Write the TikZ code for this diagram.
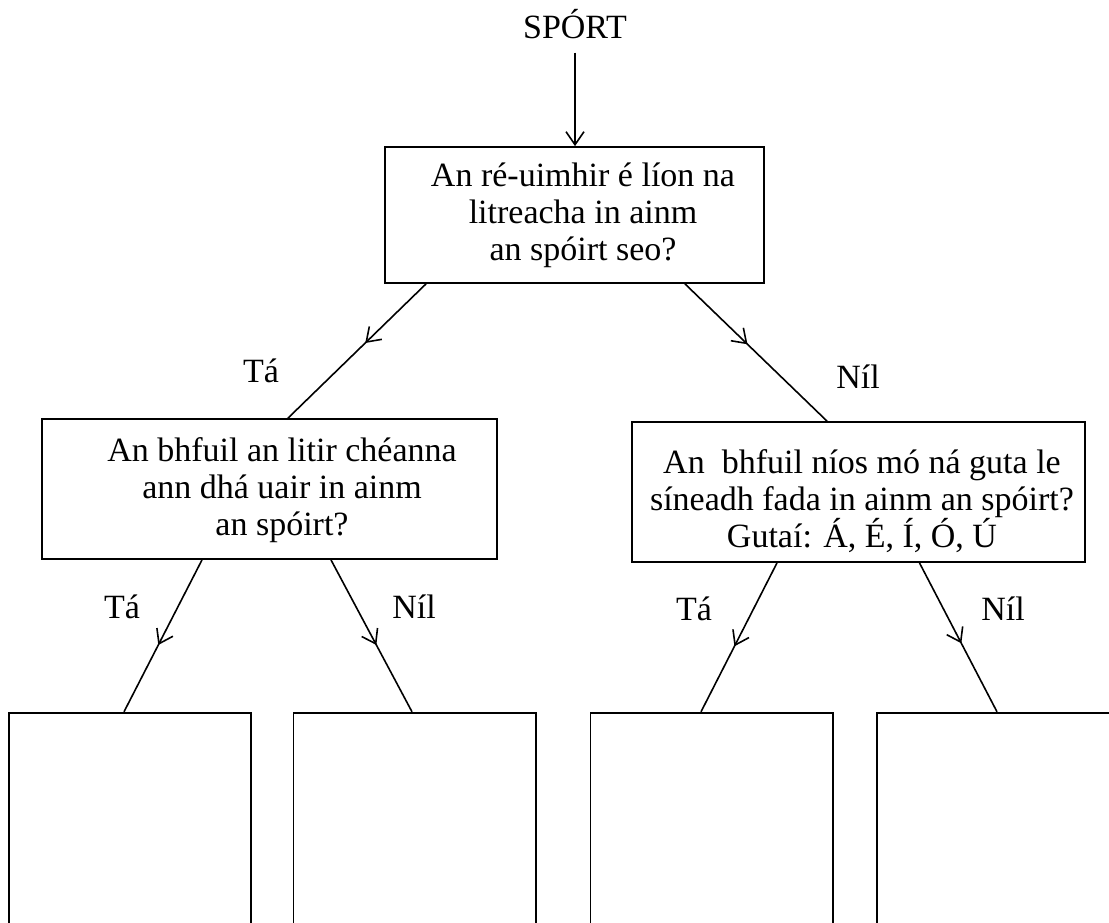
\documentclass[tikz,border=0pt]{standalone}
\usepackage{fontspec}
\setmainfont{Liberation Serif}
\usetikzlibrary{arrows.meta,decorations.markings}
\begin{document}
\begin{tikzpicture}[x=1pt,y=-1pt,
  >={Straight Barb[length=13pt,width=18pt]},
  every node/.style={font=\fontsize{34}{37}\selectfont},
  qbox/.style={draw,line width=1.8pt,inner sep=0pt},
  ebox/.style={draw,line width=1.8pt,inner sep=0pt,minimum height=247.3pt},
  qtext/.style={align=center,anchor=base,inner sep=0pt},
  lbl/.style={anchor=base,inner sep=0pt},
  conn/.style={line width=1.6pt,postaction={decorate},
    decoration={markings,mark=at position #1 with {\arrow{>}}}}]
\useasboundingbox (0,0) rectangle (1109,922);
\clip (0,0) rectangle (1109,922);
% title
\node[lbl,inner ysep=14pt] (sport) at (575,38) {SPÓRT};
% question boxes (text nodes anchored at the baseline of their last line)
\node[qbox,minimum width=379pt,minimum height=136pt] (q1) at (574.5,215) {};
\node[qtext] (t1) at (583,260) {An ré-uimhir é líon na\\litreacha in ainm\\an spóirt seo?};
\node[qbox,minimum width=455pt,minimum height=140pt] (q2) at (269.5,489) {};
\node[qtext] (t2) at (282,535) {An bhfuil an litir chéanna\\ann dhá uair in ainm\\an spóirt?};
\node[qbox,minimum width=453pt,minimum height=140pt] (q3) at (858.5,492) {};
\node[qtext] (t3) at (862,547) {An\ \ bhfuil níos mó ná guta le\\síneadh fada in ainm an spóirt?\\Gutaí: Á, É, Í, Ó, Ú};
% empty answer boxes
\node[ebox,minimum width=242pt] (e1) at (130,836.35) {};
\node[ebox,minimum width=242.5pt] (e2) at (414.75,836.35) {};
\node[ebox,minimum width=242.5pt] (e3) at (711.75,836.35) {};
\node[ebox,minimum width=253pt] (e4) at (1003.5,836.35) {};
% connectors
\draw[->,line width=1.6pt] (sport.south) -- (sport.south |- q1.north);
\draw[conn=0.44] ([xshift=-148.5pt]q1.south) -- ([xshift=18.5pt]q2.north);
\draw[conn=0.44] ([xshift=110.5pt]q1.south) -- ([xshift=-31.5pt]q3.north);
\draw[conn=0.56] ([xshift=-67.5pt]q2.south) -- ([xshift=-6pt]e1.north);
\draw[conn=0.56] ([xshift=61.5pt]q2.south) -- ([xshift=-2.75pt]e2.north);
\draw[conn=0.56] ([xshift=-81.5pt]q3.south) -- ([xshift=-10.75pt]e3.north);
\draw[conn=0.54] ([xshift=61pt]q3.south) -- ([xshift=-6.5pt]e4.north);
% labels
\node[lbl] (l1) at (261,382) {Tá};
\node[lbl] (l2) at (858,388) {Níl};
\node[lbl] (l3) at (122,618) {Tá};
\node[lbl] (l4) at (414,618) {Níl};
\node[lbl] (l5) at (694,620) {Tá};
\node[lbl] (l6) at (1003,620) {Níl};
\end{tikzpicture}
\end{document}
